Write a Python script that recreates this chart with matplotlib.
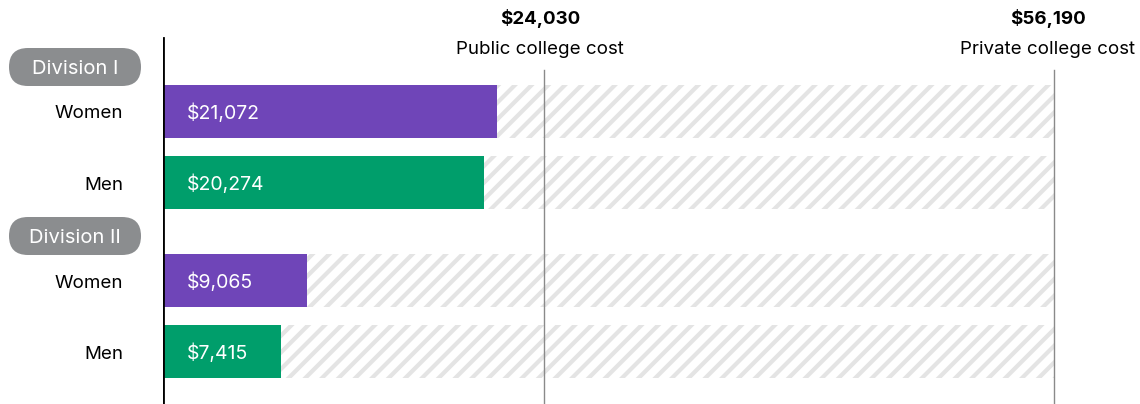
import matplotlib
matplotlib.use('Agg')
import matplotlib.pyplot as plt
from matplotlib.patches import FancyBboxPatch

plt.rcParams['font.family'] = ['Inter', 'DejaVu Sans']
plt.rcParams['hatch.linewidth'] = 3.0

divisions = ['Division I', 'Division II']
genders = ['Women', 'Men', 'Women', 'Men']
values = [21072, 20274, 9065, 7415]
bar_colors = ['#6f45b8', '#009e6b', '#6f45b8', '#009e6b']
ref_values = [24030, 56190]
ref_labels = ['Public college cost', 'Private college cost']

W, H = 1140, 404
fig = plt.figure(figsize=(W / 100, H / 100), dpi=100)

# main axes: x in dollars, y in pixel rows
x0_px, xref_px = 163, 1054
dollars_per_px = ref_values[1] / (xref_px - x0_px)
ax = fig.add_axes([x0_px / W, 0, (W - x0_px) / W, 1])
ax.set_xlim(0, (W - x0_px) * dollars_per_px)
ax.set_ylim(H, 0)
ax.axis('off')

bar_y = [111, 182.5, 280, 351.5]
bar_h = 53

# hatched background up to private cost
for y in bar_y:
    ax.barh(y, ref_values[1], height=bar_h, color='white', edgecolor='#e4e4e4',
            hatch='//', linewidth=0, zorder=1)

for y, v, c in zip(bar_y, values, bar_colors):
    ax.barh(y, v, height=bar_h, color=c, linewidth=0, zorder=2)
    ax.text(24 * dollars_per_px, y + 2, '${:,}'.format(v), color='white',
            fontsize=14, va='center', ha='left', zorder=3)

# reference lines
ax.plot([ref_values[0]] * 2, [70, H], color='#8a8a8a', lw=1, zorder=4)
ax.plot([ref_values[1]] * 2, [70, H], color='#8a8a8a', lw=1, zorder=4)
ax.plot([0, 0], [38, H], color='black', lw=2, zorder=5)

ref_centers = [ref_values[0] - 4 * dollars_per_px, ref_values[1] - 6 * dollars_per_px]
for xc, v, lab in zip(ref_centers, ref_values, ref_labels):
    ax.text(xc, 19, '${:,}'.format(v), fontsize=13.5, fontweight='bold',
            ha='center', va='center')
    ax.text(xc, 49, lab, fontsize=13.5, ha='center', va='center')

# overlay in pixel coords for left labels
ov = fig.add_axes([0, 0, 1, 1], zorder=-1)
ov.set_xlim(0, W)
ov.set_ylim(H, 0)
ov.axis('off')

pill_y = [67, 236]
for y, d in zip(pill_y, divisions):
    ov.add_patch(FancyBboxPatch((9, y - 19), 132, 38,
                                boxstyle='round,pad=0,rounding_size=19',
                                facecolor='#8b8d8f', edgecolor='none'))
    ov.text(75, y + 2, d, color='white', fontsize=14.5, ha='center', va='center')

for y, g in zip(bar_y, genders):
    ov.text(123, y + 3, g, fontsize=13.5, ha='right', va='center')

fig.savefig('out.png', dpi=100)
